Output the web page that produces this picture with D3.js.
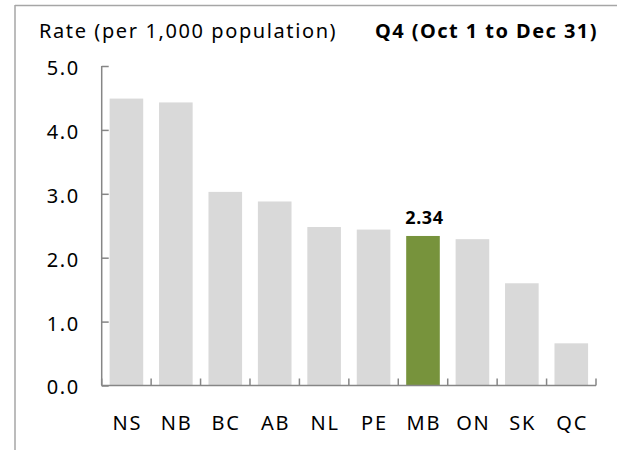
<!DOCTYPE html>
<html>
<head>
<meta charset="utf-8">
<script src="https://cdn.jsdelivr.net/npm/d3@7"></script>
<style>
  body { margin: 0; background: #fff; }
  svg { display: block; }
  text { font-family: "Noto Sans", "Liberation Sans", sans-serif; fill: #000; }
</style>
</head>
<body>
<svg width="617" height="450"></svg>
<script>
// provinces, sorted by rate
var provinces = ["NS", "NB", "BC", "AB", "NL", "PE", "MB", "ON", "SK", "QC"];
var rates = [4.49, 4.43, 3.03, 2.88, 2.48, 2.44, 2.34, 2.29, 1.60, 0.66];
var yTicks = [0, 1, 2, 3, 4, 5];
var highlight = "MB";

var svg = d3.select("svg");

// frame lines (top + left, cut off by the picture edge)
svg.append("line").attr("x1", 15).attr("x2", 617).attr("y1", 5.5).attr("y2", 5.5)
    .attr("stroke", "#a6a6a6").attr("stroke-width", 1.5);
svg.append("line").attr("x1", 15).attr("x2", 15).attr("y1", 5).attr("y2", 450)
    .attr("stroke", "#a6a6a6").attr("stroke-width", 1.5);

//titles
svg.append("text")
    .attr("x", 39).attr("y", 38)
    .attr("font-size", "20px")
    .attr("letter-spacing", "1.6px")
    .text("Rate (per 1,000 population)");
svg.append("text")
    .attr("x", 598).attr("y", 38)
    .attr("text-anchor", "end")
    .attr("font-size", "20px")
    .attr("font-weight", "bold")
    .attr("letter-spacing", "1.45px")
    .text("Q4 (Oct 1 to Dec 31)");

//scales
var x = d3.scaleBand().domain(provinces).range([101.7, 596])
    .paddingInner(0.32).paddingOuter(0.16);
var y = d3.scaleLinear().domain([0, 5]).range([385.5, 66]);

var data = provinces.map(function (p, i) { return [p, rates[i]]; });

//bars
svg.selectAll(".bar")
    .data(data)
    .enter().append("rect")
    .attr("class", "bar")
    .attr("x", function (d) { return x(d[0]); })
    .attr("y", function (d) { return y(d[1]); })
    .attr("width", x.bandwidth())
    .attr("height", function (d) { return y(0) - y(d[1]); })
    .attr("fill", function (d) { return d[0] == highlight ? "#77933c" : "#d9d9d9"; });

//value label over highlighted bar
var hi = data[provinces.indexOf(highlight)];
svg.append("text")
    .attr("x", x(hi[0]) + x.bandwidth() / 2 + 1.5)
    .attr("y", y(hi[1]) - 12)
    .attr("text-anchor", "middle")
    .attr("font-size", "18px")
    .attr("font-weight", "bold")
    .attr("letter-spacing", "0.6px")
    .text(hi[1].toFixed(2));

//y axis
var yAxis = svg.append("g")
    .attr("transform", "translate(101.7,0)")
    .call(d3.axisLeft(y).tickValues(yTicks).tickSize(7).tickPadding(15)
        .tickFormat(d3.format(".1f")));
yAxis.select(".domain").attr("d", "M0," + y(5) + "V" + y(0));
yAxis.selectAll(".tick line").attr("x2", 7);
yAxis.selectAll(".tick text")
    .attr("font-size", "20px").attr("font-family", null)
    .attr("letter-spacing", "1.6px").attr("dy", "0.42em");

//x axis
var xAxis = svg.append("g")
    .attr("transform", "translate(0," + y(0) + ")")
    .call(d3.axisBottom(x).tickSize(0).tickPadding(30));
xAxis.selectAll(".tick text")
    .attr("font-size", "20px").attr("font-family", null)
    .attr("letter-spacing", "1.8px").attr("dx", "0.9px");
xAxis.select(".domain").remove();
xAxis.append("line").attr("x1", 101.7).attr("x2", 596).attr("y1", 0).attr("y2", 0);

// boundary ticks between categories, pointing up
var off = (x.step() - x.bandwidth()) / 2;
var bounds = provinces.map(function (p) { return x(p) - off; }).concat([x.range()[1]]);
xAxis.selectAll(".bt")
    .data(bounds)
    .enter().append("line")
    .attr("class", "bt")
    .attr("x1", function (d) { return d; })
    .attr("x2", function (d) { return d; })
    .attr("y1", 0).attr("y2", -7);

svg.selectAll(".domain, .tick line, .bt, g line")
    .attr("stroke", "#868686").attr("stroke-width", 1.5);
</script>
</body>
</html>
